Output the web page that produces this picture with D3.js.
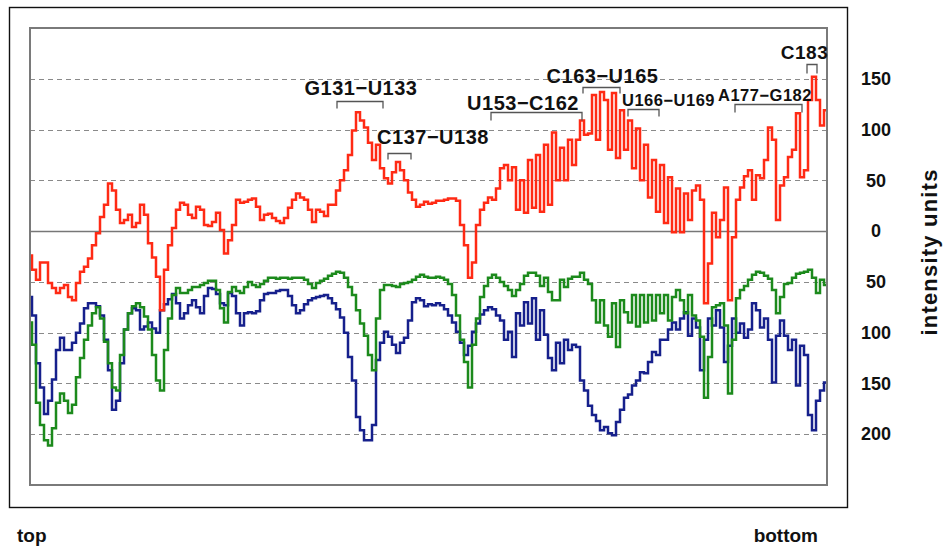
<!DOCTYPE html>
<html>
<head>
<meta charset="utf-8">
<script src="https://cdn.jsdelivr.net/npm/d3@7"></script>
<style>
  html, body { margin: 0; padding: 0; background: #fff; }
  svg { display: block; }
  text { font-family: "Liberation Sans", Arial, Helvetica, sans-serif; fill: #111; }
</style>
</head>
<body>
<svg id="chart" width="945" height="553"></svg>
<script>
// Reactivity profile along the RNA (top -> bottom), intensity units.
// Red trace is plotted upward; green and blue intensities are plotted downward.
const redValues = [
  -24,-38,-48,-31,-31,-51,-56,-61,-56,-53,-65,-68,-51,-40,-35,-27,-14,-2,14,26,
  47,40,21,8,11,16,4,8,26,16,-12,-26,-45,-78,-38,-14,3,21,28,26,
  16,13,24,21,6,5,9,18,1,-22,-9,6,31,28,29,31,32,24,11,16,
  17,13,10,8,13,23,31,37,33,31,21,9,21,19,15,26,26,40,50,60,
  75,99,117,109,102,87,70,85,62,52,47,58,68,60,50,38,31,24,26,29,
  27,28,30,30,31,32,32,30,6,-14,-46,-31,6,21,28,33,31,42,62,65,
  50,63,21,50,18,70,23,75,19,85,26,97,50,82,50,90,65,90,109,95,
  96,134,90,137,129,80,136,72,119,80,109,62,101,50,85,33,70,19,65,8,
  53,-1,42,-1,37,11,40,45,31,-71,-32,18,-6,11,43,-68,-6,31,43,54,
  60,31,55,52,70,102,90,11,45,53,73,80,116,53,60,129,152,129,104,119
];
const greenValues = [
  90,112,169,191,206,211,194,169,160,167,179,171,144,125,107,93,81,75,86,109,
  130,154,157,122,97,81,74,71,75,84,97,122,147,157,117,86,63,56,61,61,
  58,55,55,53,51,49,49,58,76,90,60,55,59,61,55,50,53,55,52,49,
  46,46,47,46,46,47,46,46,46,48,52,56,51,49,47,44,42,40,41,46,
  55,63,78,91,103,122,137,86,58,53,53,54,55,52,51,50,48,45,43,45,
  46,46,45,46,48,52,63,83,107,129,154,112,86,65,54,46,43,46,50,54,
  58,64,58,52,44,41,41,44,54,46,60,68,68,48,55,47,45,45,41,48,
  52,68,90,68,93,104,71,114,68,80,90,63,94,63,90,63,88,63,81,63,
  88,65,58,68,81,63,83,88,104,164,124,75,73,71,93,160,107,66,58,54,
  48,43,40,41,44,47,58,81,65,52,51,46,42,41,40,38,46,61,48,53
];
const blueValues = [
  65,83,130,154,180,167,146,117,105,117,117,110,100,91,76,71,71,74,83,107,
  137,176,167,130,97,81,76,78,97,94,90,96,100,78,72,67,62,71,86,81,
  73,68,75,81,64,56,57,62,71,73,61,64,81,93,81,80,81,79,68,62,
  61,61,59,58,58,64,73,81,78,72,68,66,65,64,63,66,71,77,85,100,
  124,147,183,196,206,206,191,127,110,99,104,112,120,110,105,88,70,66,68,74,
  72,73,71,73,77,83,90,99,110,122,113,99,91,82,78,75,77,83,88,107,
  99,124,81,93,70,91,66,107,78,102,125,137,110,130,107,117,112,114,147,157,
  172,181,187,196,193,199,201,188,176,164,161,152,147,139,140,129,119,122,107,107,
  97,90,97,86,80,103,86,95,137,107,86,93,78,95,129,113,86,100,91,105,
  97,71,78,95,86,107,149,103,88,103,117,107,152,113,122,181,196,167,157,149
];
const tickValues = [150, 100, 50, 0, -50, -100, -150, -200];

// Nucleotide ranges marked above the red trace (positions are sample indices).
const regionLabels = ["G131−U133", "C137−U138", "U153−C162", "C163−U165", "U166−U169", "A177−G182", "C183"];
const regionStart  = [76.75, 89.5, 115.25, 138.25, 149.5, 176.25, 194.25];
const regionEnd    = [88.25, 95.25, 138, 147.5, 157.25, 193, 196.75];
const regionLevel  = [128, 77, 117, 142, 120, 125, 165];

// Label placement relative to each bracket
const labelStyle = [
  { dx: 1,     dy: -7,  size: 20, tick: 7 },
  { dx: 33.5,  dy: -10, size: 20, tick: 6 },
  { dx: -13.5, dy: -3,  size: 20, tick: 8 },
  { dx: 1,     dy: -5,  size: 20, tick: 6 },
  { dx: 25,    dy: -4,  size: 16.5, tick: 7 },
  { dx: -3.5,  dy: -4,  size: 16.5, tick: 8 },
  { dx: -7.5,  dy: -6,  size: 19, tick: 9 }
];

const svg = d3.select("#chart");
const plot = { left: 30, top: 28, right: 827, bottom: 485 };

const x = d3.scaleLinear().domain([0, redValues.length - 1]).range([30, 826]);
const y = d3.scaleLinear().domain([-250, 200]).range([plot.bottom, plot.top]);

// outer frame
svg.append("rect")
  .attr("x", 9.5).attr("y", 7.5).attr("width", 838).attr("height", 500)
  .attr("fill", "none").attr("stroke", "#111").attr("stroke-width", 1.4);

// grid lines
svg.append("g").selectAll("line")
  .data(tickValues)
  .join("line")
  .attr("x1", plot.left).attr("x2", plot.right)
  .attr("y1", d => Math.round(y(d)) + 0.5).attr("y2", d => Math.round(y(d)) + 0.5)
  .attr("stroke", d => d === 0 ? "#777" : "#8a8a8a")
  .attr("stroke-width", d => d === 0 ? 1.3 : 1)
  .attr("stroke-dasharray", d => d === 0 ? null : "5,4");

// traces
const line = d3.line()
  .x((d, i) => x(i))
  .curve(d3.curveStep);

const traces = [
  { values: blueValues,  sign: -1, color: "#16208c" },
  { values: greenValues, sign: -1, color: "#1c8a1c" },
  { values: redValues,   sign: 1,  color: "#ff2a14" }
];
traces.forEach(t => {
  svg.append("path")
    .datum(t.values)
    .attr("fill", "none")
    .attr("stroke", t.color)
    .attr("stroke-width", 2.5)
    .attr("stroke-linejoin", "miter")
    .attr("d", line.y(d => y(t.sign * d)));
});

// inner frame
svg.append("rect")
  .attr("x", plot.left).attr("y", plot.top)
  .attr("width", plot.right - plot.left).attr("height", plot.bottom - plot.top)
  .attr("fill", "none").attr("stroke", "#7a7a7a").attr("stroke-width", 2);

// right axis labels (absolute intensity)
const axis = d3.axisRight(y)
  .tickValues(tickValues)
  .tickSize(0)
  .tickPadding(0)
  .tickFormat(d => Math.abs(d));
const axisG = svg.append("g")
  .attr("transform", "translate(876,0)")
  .call(axis);
axisG.select(".domain").remove();
axisG.selectAll("text")
  .attr("text-anchor", "middle")
  .attr("x", 0)
  .attr("font-family", "'Liberation Sans', Arial, sans-serif")
  .attr("font-size", 18)
  .attr("font-weight", "bold")
  .attr("fill", "#111");

svg.append("text")
  .attr("transform", "translate(937,252) rotate(-90)")
  .attr("text-anchor", "middle")
  .attr("font-size", 22)
  .attr("font-weight", "bold")
  .attr("letter-spacing", 1.2)
  .text("intensity units");

// region brackets
const regions = svg.append("g");
regionLabels.forEach((label, k) => {
  const x0 = x(regionStart[k]), x1 = x(regionEnd[k]);
  const yl = Math.round(y(regionLevel[k])) + 0.5;
  const st = labelStyle[k];
  regions.append("path")
    .attr("d", `M${x0},${yl + st.tick}V${yl}H${x1}V${yl + st.tick}`)
    .attr("fill", "none").attr("stroke", "#555").attr("stroke-width", 1.3);
  regions.append("text")
    .attr("x", (x0 + x1) / 2 + st.dx)
    .attr("y", yl + st.dy)
    .attr("text-anchor", "middle")
    .attr("font-size", st.size)
    .attr("font-weight", "bold")
    .attr("letter-spacing", 0.5)
    .text(label);
});

// direction labels
svg.append("text").attr("x", 17).attr("y", 542)
  .attr("font-size", 19).attr("font-weight", "bold").text("top");
svg.append("text").attr("x", 818).attr("y", 542).attr("text-anchor", "end")
  .attr("font-size", 19).attr("font-weight", "bold").text("bottom");
</script>
</body>
</html>
